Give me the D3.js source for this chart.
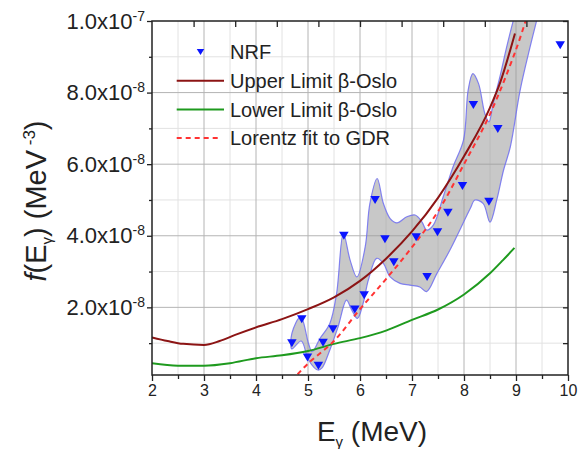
<!DOCTYPE html>
<html>
<head>
<meta charset="utf-8">
<script src="https://cdn.jsdelivr.net/npm/d3@7"></script>
<style>
  body { margin: 0; background: #fff; }
  svg { display: block; font-family: "Liberation Sans", Arial, sans-serif; }
</style>
</head>
<body>
<svg id="chart" width="582" height="449"></svg>
<script>
// Photon strength function f(E_gamma); all f values in units of 1e-9 MeV^-3.

// NRF data points
const nrfE = [4.69, 4.88, 4.99, 5.20, 5.29, 5.48, 5.69, 5.90, 6.08, 6.29, 6.48,
              6.65, 7.08, 7.29, 7.49, 7.69, 7.97, 8.18, 8.48, 8.65, 9.85];
const nrfF = [10.0, 16.7, 6.0, 3.7, 10.1, 13.9, 40.0, 19.4, 23.4, 50.0, 39.0,
              32.6, 39.6, 28.5, 41.0, 46.4, 53.9, 76.5, 49.5, 69.8, 93.2];

// Uncertainty band around the NRF data: upper and lower outline
const bandUpperE = [4.69, 4.86, 5.01, 5.08, 5.23, 5.42, 5.55, 5.68, 5.81, 5.94, 6.10,
                    6.19, 6.33, 6.45, 6.58, 6.71, 6.90, 7.06, 7.19, 7.28, 7.41, 7.60,
                    7.79, 7.99, 8.08, 8.17, 8.28, 8.40, 8.48, 8.56, 8.69, 8.82, 8.94, 9.05];
const bandUpperF = [12.7, 17.4, 9.9, 7.6, 11.3, 15.5, 23.9, 40.7, 33.2, 28.5, 36.9,
                    49.0, 56.0, 49.0, 44.8, 43.6, 45.3, 45.8, 43.9, 41.6, 43.0, 50.9,
                    59.3, 66.7, 80.7, 85.3, 82.5, 74.2, 71.8, 76.9, 84.4, 92.7, 99.7, 106];
const bandLowerE = [4.69, 4.87, 5.01, 5.19, 5.27, 5.42, 5.58, 5.74, 5.84, 5.95, 6.06,
                    6.16, 6.32, 6.45, 6.58, 6.77, 6.96, 7.15, 7.28, 7.48, 7.73, 7.92,
                    8.12, 8.21, 8.37, 8.50, 8.63, 8.76, 8.89, 9.08, 9.27, 9.39, 9.50];
const bandLowerF = [8.4, 10.6, 5.3, 2.5, 3.1, 8.1, 14.6, 22.0, 19.3, 16.9, 21.1,
                    27.6, 33.7, 32.3, 28.5, 26.7, 26.2, 25.7, 24.4, 29.5, 36.0, 41.6,
                    47.6, 50.0, 49.0, 43.8, 50.0, 58.3, 64.8, 80.7, 92.7, 99.7, 106];

// Oslo method limits
const upperOsloE = [2.0, 2.3, 2.6, 3.0, 3.3, 3.6, 4.0, 4.5, 5.0, 5.5, 6.0, 6.5, 7.0, 7.5, 8.0, 8.5, 8.7, 8.98];
const upperOsloF = [11.6, 10.6, 9.8, 9.5, 10.6, 12.3, 14.4, 16.7, 19.5, 22.8, 27.4, 33.6, 41.2, 50.6, 62.2, 75.8, 83.0, 96.5];
const lowerOsloE = [2.0, 2.5, 3.0, 3.5, 4.0, 4.5, 5.0, 5.5, 6.0, 6.5, 7.0, 7.5, 8.0, 8.5, 8.75, 8.97];
const lowerOsloF = [4.4, 3.7, 3.7, 4.4, 5.8, 6.6, 7.8, 9.8, 11.4, 13.5, 16.5, 19.4, 23.6, 29.5, 33.2, 36.6];

// Lorentzian fit to the giant dipole resonance
const lorentzE = [4.8, 5.0, 5.5, 6.0, 6.5, 7.0, 7.5, 8.0, 8.5, 9.0, 9.25];
const lorentzF = [1.3, 4.3, 10.6, 19.5, 27.9, 36.8, 46.8, 60.0, 74.0, 92.0, 103.0];

// Axes
const xTicks = [2, 3, 4, 5, 6, 7, 8, 9, 10];
const xMinorTicks = [2.5, 3.5, 4.5, 5.5, 6.5, 7.5, 8.5, 9.5];
const xTopTicks = [2.8, 3.6, 4.4, 5.2, 6.0, 6.8, 7.6, 8.4, 9.2];
const yTicks = [20, 40, 60, 80, 100];
const yMinorTicks = [10, 30, 50, 70, 90];
const yRightTicks = [10, 20, 30, 40, 50, 60, 70, 80, 90, 100];
const yTickMantissa = ["2.0", "4.0", "6.0", "8.0", "1.0"];
const yTickExponent = ["-8", "-8", "-8", "-8", "-7"];

const legendLabels = ["NRF", "Upper Limit \u03B2-Oslo", "Lower Limit \u03B2-Oslo", "Lorentz fit to GDR"];

const colors = {
  nrf: "#0a14ff",
  upper: "#8c1414",
  lower: "#1e9a1e",
  lorentz: "#ff3333",
  bandFill: "#9a9a9a",
  bandStroke: "#6f6ff0"
};

const plot = { left: 152, right: 568, top: 21, bottom: 375 };

const svg = d3.select("#chart");
const x = d3.scaleLinear().domain([2, 10]).range([plot.left, plot.right]);
const y = d3.scaleLinear().domain([1.1, 100]).range([plot.bottom, plot.top]);

const zip = (a, b) => a.map((v, i) => [v, b[i]]);

svg.append("defs").append("clipPath").attr("id", "plotClip")
  .append("rect")
  .attr("x", plot.left).attr("y", plot.top)
  .attr("width", plot.right - plot.left).attr("height", plot.bottom - plot.top);

// Grid
const grid = svg.append("g");
grid.selectAll("line.xminor").data(xMinorTicks).join("line")
  .attr("x1", d => x(d)).attr("x2", d => x(d))
  .attr("y1", plot.top).attr("y2", plot.bottom)
  .attr("stroke", "#e2e2e2").attr("stroke-width", 1);
grid.selectAll("line.yminor").data(yMinorTicks).join("line")
  .attr("x1", plot.left).attr("x2", plot.right)
  .attr("y1", d => y(d)).attr("y2", d => y(d))
  .attr("stroke", "#e2e2e2").attr("stroke-width", 1);
grid.selectAll("line.xmajor").data(xTicks.slice(1, -1)).join("line")
  .attr("x1", d => x(d)).attr("x2", d => x(d))
  .attr("y1", plot.top).attr("y2", plot.bottom)
  .attr("stroke", "#b4b4b4").attr("stroke-width", 1);
grid.selectAll("line.ymajor").data(yTicks.slice(0, -1)).join("line")
  .attr("x1", plot.left).attr("x2", plot.right)
  .attr("y1", d => y(d)).attr("y2", d => y(d))
  .attr("stroke", "#b4b4b4").attr("stroke-width", 1);

const layer = svg.append("g").attr("clip-path", "url(#plotClip)");

// Uncertainty band
const bandPts = zip(bandUpperE, bandUpperF).concat(zip(bandLowerE, bandLowerF).reverse());
layer.append("path")
  .attr("d", d3.line().x(d => x(d[0])).y(d => y(d[1])).curve(d3.curveCatmullRomClosed.alpha(0.5))(bandPts))
  .attr("fill", colors.bandFill).attr("fill-opacity", 0.55)
  .attr("stroke", colors.bandStroke).attr("stroke-width", 1.2).attr("stroke-opacity", 0.85);

const line = d3.line().x(d => x(d[0])).y(d => y(d[1])).curve(d3.curveCatmullRom.alpha(0.5));
const smooth = d3.line().x(d => x(d[0])).y(d => y(d[1])).curve(d3.curveMonotoneX);

layer.append("path").attr("d", smooth(zip(lowerOsloE, lowerOsloF)))
  .attr("fill", "none").attr("stroke", colors.lower).attr("stroke-width", 2);
layer.append("path").attr("d", smooth(zip(upperOsloE, upperOsloF)))
  .attr("fill", "none").attr("stroke", colors.upper).attr("stroke-width", 2);
layer.append("path").attr("d", line(zip(lorentzE, lorentzF)))
  .attr("fill", "none").attr("stroke", colors.lorentz).attr("stroke-width", 2)
  .attr("stroke-dasharray", "5,4");

// Down-pointing triangle marker
const tri = (w, h) => `M${-w / 2},${-h / 2}L${w / 2},${-h / 2}L0,${h / 2}Z`;
layer.selectAll("path.nrf").data(zip(nrfE, nrfF)).join("path")
  .attr("class", "nrf")
  .attr("transform", d => `translate(${x(d[0])},${y(d[1])})`)
  .attr("d", tri(9.5, 8))
  .attr("fill", colors.nrf);

// Axes
const gBottom = svg.append("g").attr("transform", `translate(0,${plot.bottom})`)
  .call(d3.axisBottom(x).tickValues(xTicks).tickSizeInner(6).tickSizeOuter(0).tickPadding(4).tickFormat(d3.format("d")));
gBottom.selectAll("text").attr("font-size", 16).attr("fill", "#222").attr("font-family", null);
svg.append("g").attr("transform", `translate(0,${plot.bottom})`)
  .call(d3.axisBottom(x).tickValues(xMinorTicks).tickSize(4).tickFormat(""));

svg.append("g").attr("transform", `translate(0,${plot.top})`)
  .call(d3.axisBottom(x).tickValues(xTopTicks).tickSize(6).tickSizeOuter(0).tickFormat(""));

const gLeft = svg.append("g").attr("transform", `translate(${plot.left},0)`)
  .call(d3.axisLeft(y).tickValues(yTicks).tickSizeInner(5).tickSizeOuter(0).tickPadding(2));
gLeft.selectAll(".tick text").each(function (d, i) {
  const t = d3.select(this).text(null).attr("font-size", 22).attr("fill", "#222").attr("font-family", null);
  t.append("tspan").text(yTickMantissa[i] + "x10");
  t.append("tspan").attr("font-size", 14).attr("dy", -8).text(yTickExponent[i]);
});
svg.append("g").attr("transform", `translate(${plot.left},0)`)
  .call(d3.axisLeft(y).tickValues(yMinorTicks).tickSize(3).tickFormat(""));

svg.append("g").attr("transform", `translate(${plot.right},0)`)
  .call(d3.axisLeft(y).tickValues(yRightTicks).tickSize(5).tickSizeOuter(0).tickFormat(""));

svg.selectAll(".domain").remove();
svg.selectAll(".tick line").attr("stroke", "#222").attr("stroke-width", 1.3);

// Frame
svg.append("rect")
  .attr("x", plot.left).attr("y", plot.top)
  .attr("width", plot.right - plot.left).attr("height", plot.bottom - plot.top)
  .attr("fill", "none").attr("stroke", "#222").attr("stroke-width", 1.5);

// Axis titles
const xt = svg.append("text").attr("x", 372).attr("y", 441).attr("text-anchor", "middle")
  .attr("font-size", 28).attr("fill", "#222");
xt.append("tspan").text("E");
xt.append("tspan").attr("font-size", 15).attr("dy", 6).text("\u03B3");
xt.append("tspan").attr("dy", -6).text(" (MeV)");

const yt = svg.append("text").attr("transform", "translate(46,201) rotate(-90)")
  .attr("text-anchor", "middle").attr("font-size", 29).attr("fill", "#222");
yt.append("tspan").attr("font-style", "italic").text("f");
yt.append("tspan").text("(E");
yt.append("tspan").attr("font-size", 15).attr("dy", 6).text("\u03B3");
yt.append("tspan").attr("dy", -6).text(")  (MeV");
yt.append("tspan").attr("font-size", 17).attr("dy", -11).text(" -3");
yt.append("tspan").attr("dy", 11).text(")");

// Legend
const legendX = 176.7, legendY0 = 52, legendStep = 28.7;
const leg = svg.append("g");
legendLabels.forEach((label, i) => {
  const cy = legendY0 + i * legendStep;
  if (i === 0) {
    leg.append("path").attr("transform", `translate(200.5,${cy})`)
      .attr("d", tri(7.5, 6)).attr("fill", colors.nrf);
  } else {
    const c = [null, colors.upper, colors.lower, colors.lorentz][i];
    leg.append("line").attr("x1", legendX).attr("x2", i === 3 ? 220 : 224)
      .attr("y1", cy).attr("y2", cy).attr("stroke", c).attr("stroke-width", 2)
      .attr("stroke-dasharray", i === 3 ? "5,4" : null);
  }
  leg.append("text").attr("x", 230).attr("y", cy).attr("dy", "0.36em")
    .attr("font-size", 20).attr("fill", "#222").text(label);
});
</script>
</body>
</html>
